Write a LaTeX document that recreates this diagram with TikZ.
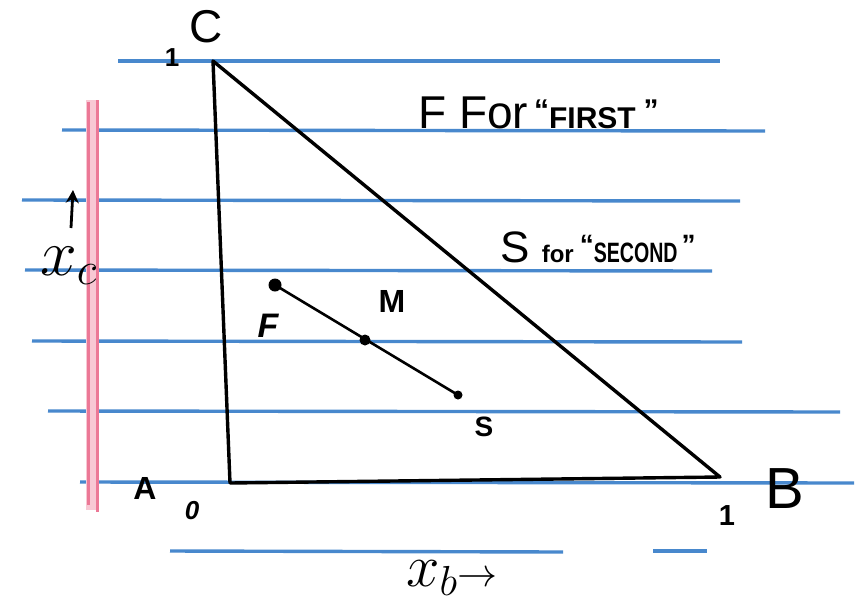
\RequirePackage{fix-cm}
\documentclass[tikz,border=0pt]{standalone}
\usepackage{fontspec}
\setmainfont{Liberation Sans}
\usetikzlibrary{arrows.meta}
\definecolor{ruled}{RGB}{72,136,205}
\definecolor{marginline}{RGB}{236,120,150}
\definecolor{marginfill}{RGB}{248,200,212}
\newcommand\myfs[1]{\fontsize{#1}{#1}\selectfont}
\begin{document}
\begin{tikzpicture}[x=1pt,y=-1pt,
  ruleline/.style={ruled,line width=3.4pt},
  edge/.style={black,line width=3.4pt,line join=round,line cap=round},
  seg/.style={black,line width=2.6pt,line cap=round},
  lbl/.style={inner sep=0pt,text=black,font=\bfseries},
  mlbl/.style={inner sep=0pt,text=black}]
\useasboundingbox[fill=white] (0,0) rectangle (856,603);
% ruled lines
\coordinate (r1a) at (118,61);  \coordinate (r1b) at (720,61);
\coordinate (r2a) at (62,130);  \coordinate (r2b) at (765,131);
\coordinate (r3a) at (22,200);  \coordinate (r3b) at (740,201);
\coordinate (r4a) at (25,270);  \coordinate (r4b) at (712,271);
\coordinate (r5a) at (32,341);  \coordinate (r5b) at (742,342);
\coordinate (r6a) at (48,411);  \coordinate (r6b) at (840,412);
\coordinate (r7a) at (80,482);  \coordinate (r7b) at (854,483);
\coordinate (r8a) at (170,551); \coordinate (r8b) at (563,552);
\coordinate (r9a) at (653,551); \coordinate (r9b) at (707,551);
\foreach \i in {1,...,9} {\draw[ruleline] (r\i a) -- (r\i b);}
% margin
\coordinate (m1) at (86,100); \coordinate (m2) at (99,510);
\fill[marginfill] (m1) rectangle (m2);
\coordinate (ml1) at (88,102); \coordinate (ml2) at (88,505);
\coordinate (mr1) at (97,100); \coordinate (mr2) at (97,512);
\draw[marginline,line width=3pt] (ml1) -- (ml2);
\draw[marginline,line width=3pt] (mr1) -- (mr2);
% triangle
\coordinate (C) at (213,61);
\coordinate (A) at (230,483);
\coordinate (B) at (720,477);
\draw[edge] (C) -- (A) -- (B) -- cycle;
% segment F-M-S
\coordinate (F) at (275,285);
\coordinate (M) at (365,340);
\coordinate (S) at (458,395);
\draw[seg] (F) -- (S);
\fill (F) circle (6.5);
\fill (M) circle (5.5);
\fill (S) circle (4.5);
% labels
\node[mlbl] (lC) at (206,27) {\myfs{46}C};
\node[lbl] (oneC) at (172,58) {\myfs{26}1};
\node[lbl] (lA) at (145,488) {\myfs{32}A};
\node[lbl] (zero) at (192,511) {\myfs{26}\itshape 0};
\node[lbl] (oneB) at (727,516) {\myfs{29}1};
\node[mlbl] (lB) at (785,489) {\myfs{58}B};
\node[lbl] (lF) at (268,326) {\myfs{34}\itshape F};
\node[lbl] (lM) at (392,301) {\myfs{32}M};
\node[lbl] (lS) at (484,427) {\myfs{28}S};
\node[mlbl,anchor=base west] (first) at (418,128)
  {\myfs{46}F For\hspace{6pt}\bfseries\myfs{30}\raisebox{8pt}{``}FIRST\hspace{8pt}\raisebox{8pt}{''}};
\node[mlbl,anchor=base west] (second) at (500,262)
  {\myfs{44}S \bfseries\myfs{24}for\hspace{6pt}\myfs{28}\raisebox{8pt}{``}\scalebox{0.7}[1]{SECOND}\hspace{4pt}\raisebox{8pt}{''}};
% axis labels
\coordinate (u1) at (71,228);
\coordinate (u2) at (73,190);
\draw[line width=2.8pt,-{Stealth[length=13pt,width=13pt]}] (u1) -- (u2);
\node[mlbl,anchor=base west] (xc) at (40,275) {\myfs{66}$x_c$};
\node[mlbl,anchor=base west] (xb) at (406,586) {\myfs{60}$x_b$\myfs{40}$\rightarrow$};
\end{tikzpicture}
\end{document}
